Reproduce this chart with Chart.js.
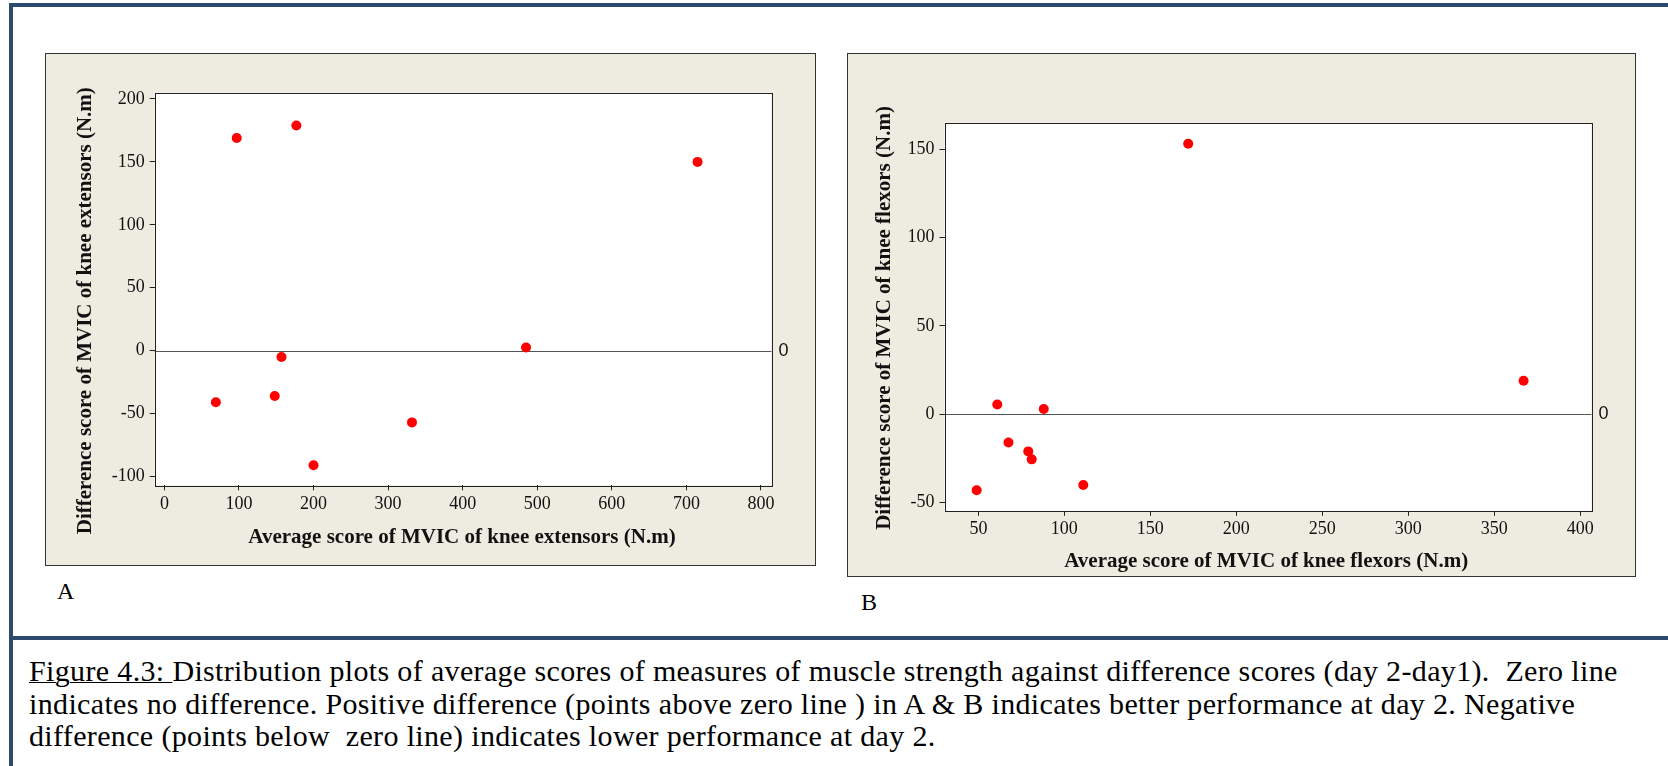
<!DOCTYPE html>
<html>
<head>
<meta charset="utf-8">
<script src="https://cdn.jsdelivr.net/npm/chart.js@4.4.1/dist/chart.umd.min.js"></script>
<style>
  body { margin: 0; width: 1668px; height: 766px; background: #fff; position: relative; overflow: hidden; font-family: "Liberation Serif", "Times New Roman", serif; }
  .bar { position: absolute; background: #2d4a6e; }
  .panel { position: absolute; background: #eeebe1; border: 1px solid #333; }
  .panel canvas { position: absolute; left: 0; top: 0; }
  .tag { position: absolute; font-size: 24px; line-height: 24px; color: #000; }
  #caption { position: absolute; left: 29px; top: 655px; font-size: 30px; letter-spacing: 0.35px; line-height: 32.5px; color: #000; white-space: pre; }
  #caption u { text-decoration-thickness: 1px; }
</style>
</head>
<body>
<div class="bar" style="left:9px;top:3px;width:1659px;height:4px"></div>
<div class="bar" style="left:9px;top:3px;width:4px;height:763px"></div>
<div class="bar" style="left:9px;top:636px;width:1659px;height:4px"></div>

<div class="panel" style="left:45px;top:53px;width:769px;height:511px"><canvas id="chartA" width="769" height="511"></canvas></div>
<div class="panel" style="left:847px;top:53px;width:787px;height:522px"><canvas id="chartB" width="787" height="522"></canvas></div>

<div class="tag" style="left:57px;top:579px">A</div>
<div class="tag" style="left:861px;top:590px">B</div>

<div id="caption"><div><u>Figure 4.3: </u>Distribution plots of average scores of measures of muscle strength against difference scores (day 2-day1).  Zero line</div><div>indicates no difference. Positive difference (points above zero line ) in A &amp; B indicates better performance at day 2. Negative</div><div>difference (points below  zero line) indicates lower performance at day 2.</div></div>

<script>
// A: knee extensors
const avgExt = [97, 177, 715, 157, 485, 69, 148, 332, 200]
const diffExt = [169, 179, 150, -5, 2.5, -41, -36, -57, -91]
const xTicksExt = [0, 100, 200, 300, 400, 500, 600, 700, 800]
const yTicksExt = [-100, -50, 0, 50, 100, 150, 200]
const xTitleExt = "Average score of MVIC of knee extensors (N.m)"
const yTitleExt = "Difference score of MVIC of knee extensors (N.m)"

// B: knee flexors
const avgFlex = [172, 367, 61, 88, 67.5, 79, 81, 111, 49]
const diffFlex = [153, 19, 5.5, 3, -16, -21, -25.5, -40, -43]
const xTicksFlex = [50, 100, 150, 200, 250, 300, 350, 400]
const yTicksFlex = [-50, 0, 50, 100, 150]
const xTitleFlex = "Average score of MVIC of knee flexors (N.m)"
const yTitleFlex = "Difference score of MVIC of knee flexors (N.m)"

const tickFont = { family: "'Liberation Serif', serif", size: 18 }
const titleFont = "bold 21px 'Liberation Serif', serif"

// white plot area, frame, zero reference line and axis titles like minitab
const minitabPlugin = {
  id: "minitab",
  beforeDraw(chart) {
    const { ctx, chartArea: a } = chart
    ctx.save()
    ctx.fillStyle = "#fff"
    ctx.fillRect(a.left, a.top, a.right - a.left, a.bottom - a.top)
    ctx.restore()
  },
  beforeDatasetsDraw(chart) {
    const { ctx, chartArea: a } = chart
    const y0 = Math.round(chart.scales.y.getPixelForValue(0)) + 0.5
    ctx.save()
    ctx.strokeStyle = "#555"
    ctx.lineWidth = 1
    ctx.beginPath()
    ctx.moveTo(a.left, y0)
    ctx.lineTo(a.right, y0)
    ctx.stroke()
    ctx.strokeStyle = "#222"
    ctx.strokeRect(Math.round(a.left) + 0.5, Math.round(a.top) + 0.5, Math.round(a.right - a.left), Math.round(a.bottom - a.top))
    ctx.fillStyle = "#111"
    ctx.font = "18px 'Liberation Sans', sans-serif"
    ctx.textAlign = "left"
    ctx.textBaseline = "middle"
    ctx.fillText("0", a.right + 7, y0)
    ctx.restore()
  },
  afterDraw(chart, args, o) {
    const ctx = chart.ctx
    ctx.save()
    ctx.fillStyle = "#111"
    ctx.font = titleFont
    ctx.textAlign = "center"
    ctx.textBaseline = "alphabetic"
    ctx.fillText(o.xTitle, o.xTitleX, o.xTitleY)
    ctx.translate(o.yTitleX, o.yTitleY)
    ctx.rotate(-Math.PI / 2)
    ctx.fillText(o.yTitle, 0, 0)
    ctx.restore()
  }
}

function scatterChart(id, xs, ys, o) {
  const points = xs.map((x, i) => ({ x: x, y: ys[i] }))
  return new Chart(document.getElementById(id), {
    type: "scatter",
    data: {
      datasets: [{
        data: points,
        backgroundColor: "#ff0000",
        borderWidth: 0,
        pointRadius: 5,
        pointHoverRadius: 5
      }]
    },
    options: {
      responsive: false,
      animation: false,
      devicePixelRatio: 1,
      layout: { padding: { top: o.top, right: o.right, left: 0, bottom: 0 } },
      plugins: {
        legend: { display: false },
        tooltip: { enabled: false },
        minitab: o
      },
      scales: {
        x: {
          type: "linear",
          min: o.xMin,
          max: o.xMax,
          afterFit: (s) => { s.height = o.bottom },
          afterBuildTicks: (s) => { s.ticks = o.xTicks.map(v => ({ value: v })) },
          grid: { drawOnChartArea: false, tickLength: 5, color: "#222" },
          border: { display: false },
          ticks: { font: tickFont, color: "#111", padding: 3, maxRotation: 0, autoSkip: false }
        },
        y: {
          type: "linear",
          min: o.yMin,
          max: o.yMax,
          afterFit: (s) => { s.width = o.left },
          afterBuildTicks: (s) => { s.ticks = o.yTicks.map(v => ({ value: v })) },
          grid: { drawOnChartArea: false, tickLength: 5, color: "#222" },
          border: { display: false },
          ticks: { font: tickFont, color: "#111", padding: 5, autoSkip: false }
        }
      }
    },
    plugins: [minitabPlugin]
  })
}

scatterChart("chartA", avgExt, diffExt, {
  xMin: -13, xMax: 814, yMin: -107, yMax: 205,
  xTicks: xTicksExt, yTicks: yTicksExt,
  left: 108.7, top: 38.7, right: 43.6, bottom: 79.7,
  xTitle: xTitleExt, xTitleX: 416, xTitleY: 488.7,
  yTitle: yTitleExt, yTitleX: 45, yTitleY: 256.7
})

scatterChart("chartB", avgFlex, diffFlex, {
  xMin: 30.3, xMax: 406.5, yMin: -54.6, yMax: 164.8,
  xTicks: xTicksFlex, yTicks: yTicksFlex,
  left: 96.5, top: 68.9, right: 43.5, bottom: 65.2,
  xTitle: xTitleFlex, xTitleX: 418.2, xTitleY: 512.7,
  yTitle: yTitleFlex, yTitleX: 42, yTitleY: 264
})
</script>
</body>
</html>
